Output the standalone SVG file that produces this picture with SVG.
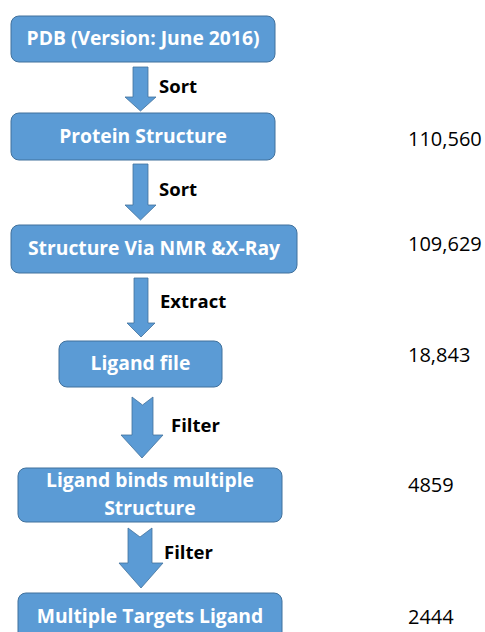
<svg xmlns="http://www.w3.org/2000/svg" width="485" height="632" viewBox="0 0 485 632">
  <style>
    .box { fill: #5B9BD5; stroke: #41719C; stroke-width: 1; }
    .arrow { fill: #5B9BD5; stroke: #41719C; stroke-width: 0.8; }
    .lbl { font-family: "Open Sans", "Noto Sans", sans-serif; font-weight: bold; font-size: 19.3px; fill: #FFFFFF; text-anchor: middle; }
    .step { font-family: "Open Sans", "Noto Sans", sans-serif; font-weight: bold; font-size: 18.5px; fill: #000000; }
    .count { font-family: "Open Sans", "Noto Sans", sans-serif; font-size: 20px; fill: #000000; }
  </style>
  <rect width="485" height="632" fill="#FFFFFF"/>

  <!-- process steps -->
  <g id="pdb">
    <rect class="box" x="11" y="16" width="264" height="46" rx="8"/>
    <text class="lbl" x="143" y="45">PDB (Version: June 2016)</text>
  </g>
  <g id="protein-structure">
    <rect class="box" x="11" y="113" width="264" height="47" rx="8"/>
    <text class="lbl" x="143" y="143">Protein Structure</text>
  </g>
  <g id="nmr-xray">
    <rect class="box" x="11" y="225" width="286" height="48" rx="8"/>
    <text class="lbl" x="154" y="255">Structure Via NMR &amp;X-Ray</text>
  </g>
  <g id="ligand-file">
    <rect class="box" x="59" y="341" width="163" height="46" rx="8"/>
    <text class="lbl" x="140.5" y="370">Ligand file</text>
  </g>
  <g id="ligand-multi">
    <rect class="box" x="18" y="468" width="264" height="54" rx="8"/>
    <text class="lbl" x="150" y="487">Ligand binds multiple</text>
    <text class="lbl" x="150" y="515">Structure</text>
  </g>
  <g id="multi-target">
    <rect class="box" x="18" y="593" width="264" height="50" rx="8"/>
    <text class="lbl" x="150" y="623">Multiple Targets Ligand</text>
  </g>

  <!-- block arrows between steps -->
  <g id="connectors">
    <path class="arrow" d="M133,67 H148 V97 H156 L140.5,111 L125,97 H133 Z"/>
    <path class="arrow" d="M133,164 H148 V205 H156 L140.5,220 L125,205 H133 Z"/>
    <path class="arrow" d="M134,278 H148 V323 H155 L141,337 L127,323 H134 Z"/>
    <path class="arrow" d="M132,397 L142.5,405 L153,397 V435 H163 L142,458 L121,435 H132 Z"/>
    <path class="arrow" d="M128,528 L140,537 L152,528 V563 H163 L141,588 L119,563 H128 Z"/>
    <text class="step" x="159" y="93">Sort</text>
    <text class="step" x="159" y="196">Sort</text>
    <text class="step" x="160" y="308">Extract</text>
    <text class="step" x="171" y="432">Filter</text>
    <text class="step" x="164" y="559">Filter</text>
  </g>

  <!-- record counts -->
  <g id="counts">
    <text class="count" x="408" y="146">110,560</text>
    <text class="count" x="408" y="251">109,629</text>
    <text class="count" x="408" y="362">18,843</text>
    <text class="count" x="408" y="492">4859</text>
    <text class="count" x="408" y="624">2444</text>
  </g>
</svg>
